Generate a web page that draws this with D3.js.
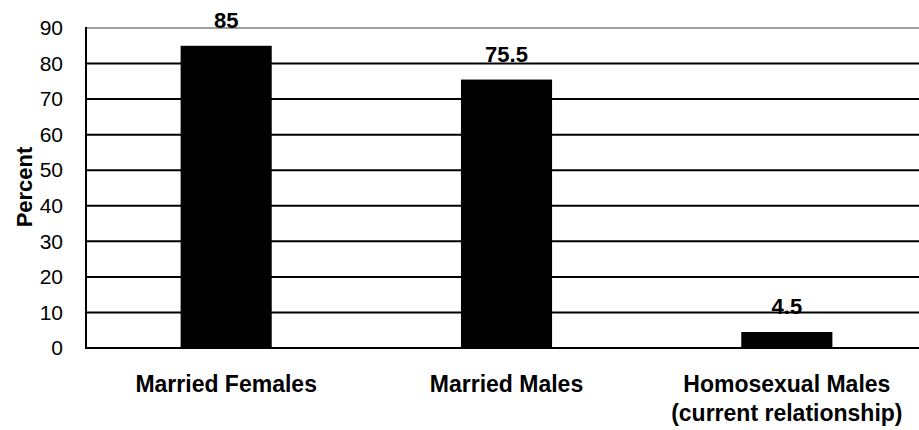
<!DOCTYPE html>
<html><head><meta charset="utf-8">
<script src="https://cdn.jsdelivr.net/npm/d3@7"></script>
<style>body{margin:0;background:#fff}svg{display:block}</style>
</head><body>
<svg id="c" width="919" height="430"></svg>
<script>
const categories = [["Married Females"], ["Married Males"], ["Homosexual Males", "(current relationship)"]];
const values = [85, 75.5, 4.5];
const valueLabels = ["85", "75.5", "4.5"];
const yTicks = [0, 10, 20, 30, 40, 50, 60, 70, 80, 90];
const yLabel = "Percent";

const svg = d3.select("#c");
const pLeft = 86, pRight = 927, pTop = 28, pBottom = 348;
const keys = categories.map(c => c.join(" "));
const x = d3.scaleBand().domain(keys).range([pLeft, pRight]).paddingInner(0.675).paddingOuter(0.3375);
const y = d3.scaleLinear().domain([0, 90]).range([pBottom, pTop]);

// gridlines
svg.append("g").selectAll("line").data(yTicks.filter(t => t > 0)).join("line")
  .attr("x1", pLeft).attr("x2", 919)
  .attr("y1", d => y(d)).attr("y2", d => y(d))
  .attr("stroke", d => d === 90 ? "#a0a0a0" : "#000")
  .attr("stroke-width", 2);

// bars
svg.append("g").selectAll("rect").data(values).join("rect")
  .attr("x", (d, i) => x(keys[i]))
  .attr("width", x.bandwidth())
  .attr("y", d => y(d))
  .attr("height", d => y(0) - y(d))
  .attr("fill", "#000");

// value labels
svg.append("g").selectAll("text").data(values).join("text")
  .attr("x", (d, i) => x(keys[i]) + x.bandwidth() / 2)
  .attr("y", d => y(d) - 18)
  .attr("text-anchor", "middle")
  .attr("font-family", "Liberation Sans, Arial, sans-serif")
  .attr("font-weight", "bold").attr("font-size", 22)
  .text((d, i) => valueLabels[i]);

// y axis
const yAxis = d3.axisLeft(y).tickValues(yTicks).tickSize(0).tickPadding(23);
const ga = svg.append("g").attr("transform", `translate(${pLeft},0)`).call(yAxis);
ga.select(".domain").remove();
ga.selectAll("text").attr("font-family", "Liberation Sans, Arial, sans-serif").attr("font-size", 21).attr("fill", "#000");

svg.append("line").attr("x1", pLeft).attr("x2", pLeft).attr("y1", pTop - 1).attr("y2", pBottom + 1)
  .attr("stroke", "#000").attr("stroke-width", 2);
svg.append("line").attr("x1", pLeft - 1).attr("x2", 919).attr("y1", pBottom).attr("y2", pBottom)
  .attr("stroke", "#000").attr("stroke-width", 2);

// category labels
const cl = svg.append("g").selectAll("text").data(categories).join("text")
  .attr("x", (d, i) => x(keys[i]) + x.bandwidth() / 2)
  .attr("y", 392)
  .attr("text-anchor", "middle")
  .attr("font-family", "Liberation Sans, Arial, sans-serif")
  .attr("font-weight", "bold").attr("font-size", 23);
cl.each(function(d) {
  const t = d3.select(this);
  d.forEach((line, j) => {
    t.append("tspan").attr("x", t.attr("x")).attr("dy", j === 0 ? 0 : 29).text(line);
  });
});

// y label
svg.append("text")
  .attr("transform", `translate(32,187) rotate(-90)`)
  .attr("text-anchor", "middle")
  .attr("font-family", "Liberation Sans, Arial, sans-serif")
  .attr("font-weight", "bold").attr("font-size", 22)
  .text(yLabel);
</script>
</body></html>
